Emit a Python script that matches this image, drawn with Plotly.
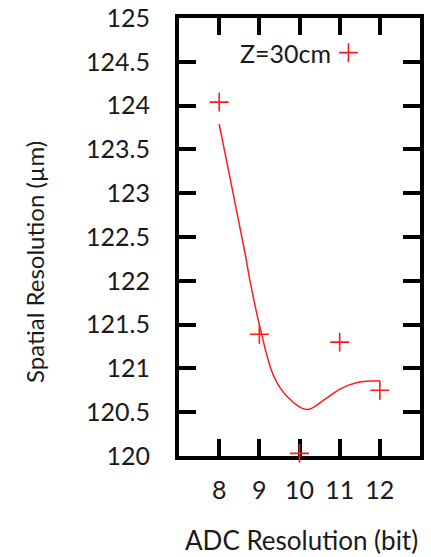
import plotly.graph_objects as go

# ADC resolution scan at Z = 30 cm
adc_bits = [8, 9, 10, 11, 12]
spatial_res = [124.04, 121.39, 120.03, 121.30, 120.75]

# smooth trend curve through the scan
trend_bits = [8, 8.32, 8.65, 8.78, 9.01, 9.36, 9.69, 10.18, 10.61, 11.03, 11.44, 12]
trend_res = [123.79, 123.06, 122.30, 121.97, 121.48, 120.91, 120.68, 120.53,
             120.64, 120.77, 120.84, 120.86]

x_ticks = [8, 9, 10, 11, 12]
y_ticks = [120, 120.5, 121, 121.5, 122, 122.5, 123, 123.5, 124, 124.5, 125]

RED = "#ff1a1a"
FONT = "Lato"
INK = "#1a1a1a"

fig = go.Figure()
fig.add_trace(go.Scatter(
    x=trend_bits, y=trend_res, mode="lines",
    line=dict(color=RED, width=1.5, shape="spline", smoothing=1.0),
    showlegend=False, hoverinfo="skip",
))
fig.add_trace(go.Scatter(
    x=adc_bits, y=spatial_res, mode="markers", name=" ",
    marker=dict(symbol="cross-thin", size=13.5, line=dict(color=RED, width=1.6)),
    cliponaxis=False, showlegend=True,
))

axis_common = dict(
    showline=True, linecolor="black", linewidth=4, mirror="allticks",
    ticks="inside", ticklen=17, tickwidth=4, tickcolor="black",
    showgrid=False, zeroline=False, layer="below traces", automargin=False,
    tickfont=dict(family=FONT, size=25, color=INK),
)

fig.update_layout(
    width=431, height=557,
    margin=dict(l=179, r=11, t=18, b=101),
    paper_bgcolor="white", plot_bgcolor="white",
    font=dict(family=FONT, color=INK),
    xaxis=dict(range=[7, 13], tickvals=x_ticks, ticklabelstandoff=9, **axis_common),
    yaxis=dict(range=[120, 125], tickvals=y_ticks, ticklabelstandoff=20, **axis_common),
    legend=dict(x=0.62, y=0.921, xanchor="left", yanchor="middle",
                bgcolor="rgba(0,0,0,0)", font=dict(size=4)),
    annotations=[
        dict(text="Z=30cm", xref="paper", yref="paper", x=0.639, y=0.921,
             xanchor="right", yanchor="middle", showarrow=False,
             font=dict(family=FONT, size=25, color=INK)),
        dict(text="ADC Resolution (bit)", xref="paper", yref="paper",
             x=0.51, y=-0.192, xanchor="center", yanchor="middle",
             showarrow=False, font=dict(family=FONT, size=26, color=INK)),
        dict(text="Spatial Resolution (µm)", xref="paper", yref="paper",
             x=-0.5975, y=0.443, textangle=-90, xanchor="center", yanchor="middle",
             showarrow=False, font=dict(family=FONT, size=24, color=INK)),
    ],
)

fig.write_html("out.html")
